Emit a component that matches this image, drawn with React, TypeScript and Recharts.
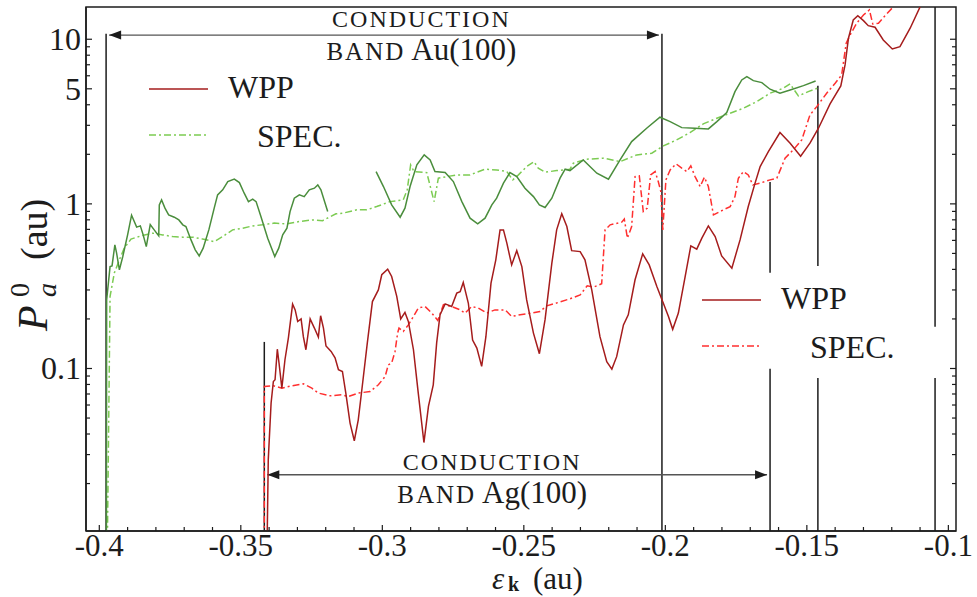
import React from 'react';
import { LineChart, Line, XAxis, YAxis, ReferenceLine, ReferenceArea } from 'recharts';

// chart frame: the plot box runs from x=86 to 956 and y=7 to 531
const W = 977;
const H = 597;
const MARGIN = { top: 7, right: 21, bottom: 0, left: 0 };
const Y_AXIS_W = 86;
const X_AXIS_H = 66;
const PLOT_W = W - MARGIN.right - Y_AXIS_W;

const SERIF = '"Liberation Serif", "DejaVu Serif", serif';
const INK = '#1c1c1c';
const DARK_GREEN = '#4a8d3c';
const LIGHT_GREEN = '#7ccb52';
const DARK_RED = '#a51c1c';
const RED = '#ff2f2f';
const DASH_DOT = '7 3 2 3';

const X_DOMAIN: [number, number] = [-0.4047, -0.0973];
const Y_DOMAIN: [number, number] = [0.0103, 15.7];

const X_TICKS = [-0.4, -0.39, -0.38, -0.37, -0.36, -0.35, -0.34, -0.33, -0.32, -0.31, -0.3, -0.29, -0.28, -0.27, -0.26, -0.25,
  -0.24, -0.23, -0.22, -0.21, -0.2, -0.19, -0.18, -0.17, -0.16, -0.15, -0.14, -0.13, -0.12, -0.11, -0.1];
const X_TICK_LABELS: Record<string, string> = {
  '-0.40': '-0.4', '-0.35': '-0.35', '-0.30': '-0.3', '-0.25': '-0.25', '-0.20': '-0.2', '-0.15': '-0.15', '-0.10': '-0.1',
};

const Y_TICKS = [0.02, 0.03, 0.04, 0.05, 0.06, 0.07, 0.08, 0.09, 0.1, 0.2, 0.3, 0.4, 0.5, 0.6, 0.7, 0.8, 0.9,
  1, 2, 3, 4, 5, 6, 7, 8, 9, 10];
const Y_TICK_LABELS: Record<string, string> = { '10': '10', '5': '5', '1': '1', '0.1': '0.1' };

// Au(100), WPP (solid, with a break near -0.31)
const auWpp: [number, number | null][] = [
  [-0.3975, 0.005], [-0.3974, 0.261], [-0.3962, 0.416], [-0.3955, 0.42], [-0.3945, 0.564], [-0.3939, 0.504],
  [-0.3929, 0.397], [-0.3917, 0.479], [-0.39, 0.648], [-0.3886, 0.854], [-0.3868, 0.722], [-0.3855, 0.735],
  [-0.3845, 0.648], [-0.3834, 0.55], [-0.382, 0.749], [-0.3806, 0.695], [-0.379, 0.639], [-0.3788, 0.986],
  [-0.378, 1.057], [-0.3768, 0.942], [-0.3755, 0.857], [-0.3735, 0.83], [-0.3719, 0.799], [-0.3705, 0.746],
  [-0.3694, 0.728], [-0.3676, 0.604], [-0.3661, 0.526], [-0.3647, 0.483], [-0.3633, 0.538], [-0.3613, 0.695],
  [-0.3594, 0.942], [-0.3582, 1.134], [-0.3564, 1.216], [-0.3546, 1.366], [-0.3523, 1.413], [-0.3505, 1.347],
  [-0.3488, 1.161], [-0.3473, 1.032], [-0.3458, 1.068], [-0.3446, 1.032], [-0.3429, 0.837], [-0.3405, 0.619],
  [-0.338, 0.479], [-0.3366, 0.538], [-0.3352, 0.648], [-0.3337, 0.712], [-0.3326, 0.898], [-0.3311, 1.083],
  [-0.3293, 1.134], [-0.3276, 1.107], [-0.3258, 1.216], [-0.324, 1.245], [-0.3228, 1.304], [-0.3217, 1.216],
  [-0.3193, 0.898], [-0.31, null],
  [-0.3022, 1.571], [-0.2996, 1.274], [-0.2967, 0.986], [-0.2937, 0.83], [-0.292, 0.942], [-0.2902, 1.274],
  [-0.2878, 1.725], [-0.2852, 1.984], [-0.2831, 1.849], [-0.2814, 1.571], [-0.2778, 1.549], [-0.2749, 1.366],
  [-0.2719, 1.032], [-0.269, 0.819], [-0.2663, 0.756], [-0.2637, 0.819], [-0.2613, 0.986], [-0.2596, 1.083],
  [-0.2572, 1.336], [-0.2549, 1.549], [-0.2525, 1.464], [-0.2496, 1.245], [-0.2466, 1.107], [-0.2445, 0.986],
  [-0.2425, 0.95], [-0.2401, 1.083], [-0.2372, 1.432], [-0.2354, 1.624], [-0.2337, 1.593], [-0.229, 1.849],
  [-0.2242, 1.536], [-0.2201, 1.413], [-0.216, 1.849], [-0.2119, 2.389], [-0.2066, 2.881], [-0.2019, 3.36],
  [-0.1983, 3.16], [-0.1942, 2.905], [-0.1895, 2.881], [-0.1848, 2.853], [-0.1818, 3.16], [-0.1783, 3.584],
  [-0.1754, 4.806], [-0.173, 5.661], [-0.1712, 5.929], [-0.1689, 5.605], [-0.1659, 5.452], [-0.163, 4.971],
  [-0.1595, 4.7], [-0.1559, 4.923], [-0.1512, 5.228], [-0.1469, 5.582],
];

// Au(100), SPEC. (dash-dot)
const auSpec: [number, number][] = [
  [-0.3973, 0.005], [-0.3962, 0.274], [-0.3947, 0.38], [-0.3929, 0.457], [-0.3912, 0.538], [-0.3888, 0.611],
  [-0.3853, 0.639], [-0.3811, 0.664], [-0.3776, 0.648], [-0.3741, 0.633], [-0.3705, 0.628], [-0.367, 0.628],
  [-0.3635, 0.611], [-0.3594, 0.59], [-0.3564, 0.633], [-0.3529, 0.695], [-0.3493, 0.712], [-0.3458, 0.735],
  [-0.3423, 0.746], [-0.3382, 0.764], [-0.334, 0.756], [-0.3293, 0.781], [-0.3246, 0.799], [-0.3211, 0.791],
  [-0.3164, 0.87], [-0.3138, 0.879], [-0.309, 0.92], [-0.3055, 0.92], [-0.302, 0.963], [-0.2973, 1.032],
  [-0.2926, 1.057], [-0.2912, 1.216], [-0.29, 1.725], [-0.2888, 1.571], [-0.2843, 1.549], [-0.2817, 1.032],
  [-0.2802, 1.432], [-0.2772, 1.464], [-0.2737, 1.5], [-0.269, 1.5], [-0.2637, 1.624], [-0.2596, 1.608],
  [-0.256, 1.571], [-0.2539, 1.399], [-0.2519, 1.5], [-0.249, 1.685], [-0.2464, 1.806], [-0.2449, 1.647],
  [-0.2425, 1.557], [-0.2384, 1.593], [-0.2337, 1.624], [-0.2325, 1.767], [-0.2278, 1.868], [-0.2219, 1.895],
  [-0.216, 1.806], [-0.2101, 1.984], [-0.2048, 2.031], [-0.2007, 2.249], [-0.196, 2.447], [-0.1913, 2.71],
  [-0.1866, 3.06], [-0.1818, 3.314], [-0.1771, 3.554], [-0.1724, 3.811], [-0.1677, 4.18], [-0.163, 4.7],
  [-0.1583, 5.041], [-0.1559, 5.353], [-0.153, 4.526], [-0.1495, 4.806], [-0.1463, 5.041],
];

// Ag(100), WPP (solid)
const agWpp: [number, number][] = [
  [-0.3409, 0.005], [-0.3403, 0.0279], [-0.3393, 0.0617], [-0.3385, 0.0834], [-0.3379, 0.0854], [-0.3371, 0.131],
  [-0.3365, 0.108], [-0.3355, 0.076], [-0.3344, 0.113], [-0.3332, 0.153], [-0.3317, 0.246], [-0.3308, 0.227],
  [-0.3299, 0.193], [-0.3287, 0.2], [-0.3279, 0.156], [-0.327, 0.13], [-0.3255, 0.2], [-0.324, 0.176],
  [-0.3226, 0.155], [-0.3218, 0.209], [-0.3208, 0.176], [-0.3199, 0.137], [-0.3181, 0.127], [-0.3167, 0.116],
  [-0.3155, 0.0982], [-0.3141, 0.0959], [-0.3129, 0.0709], [-0.3114, 0.0466], [-0.3099, 0.0364], [-0.3085, 0.0488],
  [-0.3071, 0.0777], [-0.3053, 0.143], [-0.3035, 0.255], [-0.3014, 0.3], [-0.3002, 0.371], [-0.2981, 0.401],
  [-0.2967, 0.362], [-0.2949, 0.274], [-0.2935, 0.2], [-0.292, 0.219], [-0.2908, 0.193], [-0.289, 0.13],
  [-0.2873, 0.0709], [-0.2853, 0.0355], [-0.2837, 0.0588], [-0.282, 0.0796], [-0.2808, 0.143], [-0.2796, 0.212],
  [-0.2778, 0.247], [-0.2755, 0.238], [-0.2737, 0.287], [-0.2725, 0.293], [-0.2714, 0.333], [-0.2696, 0.249],
  [-0.2681, 0.149], [-0.2666, 0.133], [-0.2649, 0.103], [-0.2634, 0.156], [-0.2616, 0.33], [-0.2599, 0.457],
  [-0.2584, 0.695], [-0.2572, 0.695], [-0.256, 0.577], [-0.2543, 0.426], [-0.2525, 0.52], [-0.2507, 0.416],
  [-0.249, 0.261], [-0.2466, 0.164], [-0.2445, 0.123], [-0.2425, 0.198], [-0.2401, 0.436], [-0.2384, 0.695],
  [-0.2366, 0.87], [-0.2348, 0.728], [-0.2331, 0.52], [-0.2301, 0.513], [-0.2284, 0.457], [-0.226, 0.3],
  [-0.2231, 0.156], [-0.2207, 0.11], [-0.2189, 0.0992], [-0.2172, 0.118], [-0.2148, 0.184], [-0.2131, 0.212],
  [-0.2107, 0.346], [-0.208, 0.497], [-0.2057, 0.426], [-0.203, 0.315], [-0.2007, 0.249], [-0.1989, 0.207],
  [-0.1974, 0.173], [-0.1954, 0.217], [-0.193, 0.362], [-0.191, 0.556], [-0.1889, 0.531], [-0.1871, 0.619],
  [-0.1848, 0.735], [-0.1824, 0.633], [-0.1801, 0.483], [-0.1765, 0.407], [-0.1736, 0.604], [-0.1707, 0.963],
  [-0.1683, 1.336], [-0.1665, 1.685], [-0.1636, 2.077], [-0.1595, 2.71], [-0.1559, 2.336], [-0.1522, 1.948],
  [-0.1489, 2.336], [-0.1459, 2.881], [-0.1418, 4.046], [-0.138, 5.203], [-0.1365, 6.98], [-0.1353, 10.14],
  [-0.1336, 13.1], [-0.132, 13.91], [-0.13, 12.97], [-0.1283, 12.09], [-0.1259, 11.83], [-0.123, 9.9],
  [-0.1198, 8.73], [-0.1171, 9.02], [-0.1135, 11.67], [-0.1095, 16.4],
];

// Ag(100), SPEC. (dash-dot)
const agSpec: [number, number][] = [
  [-0.3417, 0.005], [-0.3417, 0.0777], [-0.3385, 0.0785], [-0.3355, 0.076], [-0.332, 0.0785], [-0.3279, 0.0807],
  [-0.3249, 0.076], [-0.3226, 0.0709], [-0.3185, 0.0683], [-0.3143, 0.0692], [-0.312, 0.0676], [-0.3085, 0.0709],
  [-0.3043, 0.0725], [-0.3014, 0.0796], [-0.299, 0.0894], [-0.2979, 0.105], [-0.2967, 0.108], [-0.2955, 0.127],
  [-0.2946, 0.164], [-0.2941, 0.176], [-0.2926, 0.168], [-0.2908, 0.184], [-0.289, 0.207], [-0.2873, 0.233],
  [-0.2849, 0.238], [-0.2825, 0.217], [-0.2804, 0.196], [-0.2784, 0.244], [-0.2755, 0.238], [-0.2725, 0.227],
  [-0.2708, 0.217], [-0.2684, 0.238], [-0.2661, 0.233], [-0.2631, 0.217], [-0.2602, 0.227], [-0.2566, 0.227],
  [-0.2543, 0.207], [-0.2513, 0.212], [-0.2472, 0.217], [-0.2443, 0.222], [-0.2419, 0.24], [-0.2378, 0.252],
  [-0.2337, 0.265], [-0.2301, 0.28], [-0.2276, 0.318], [-0.2254, 0.312], [-0.2225, 0.327], [-0.2213, 0.695],
  [-0.2195, 0.746], [-0.2154, 0.774], [-0.2145, 0.808], [-0.2134, 0.619], [-0.2119, 0.728], [-0.2107, 1.464],
  [-0.2092, 1.479], [-0.2078, 0.898], [-0.2064, 0.942], [-0.2052, 1.5], [-0.2036, 1.571], [-0.2025, 1.366],
  [-0.2016, 1.188], [-0.2009, 0.695], [-0.1998, 1.399], [-0.1983, 1.608], [-0.1962, 1.75], [-0.1942, 1.647],
  [-0.1924, 1.571], [-0.191, 1.701], [-0.1895, 1.464], [-0.1877, 1.274], [-0.1862, 1.452], [-0.1848, 1.274],
  [-0.183, 0.857], [-0.1795, 0.92], [-0.1771, 0.963], [-0.1754, 1.107], [-0.1742, 1.432], [-0.1724, 1.571],
  [-0.1707, 1.5], [-0.1691, 1.304], [-0.1659, 1.347], [-0.163, 1.399], [-0.1606, 1.432], [-0.1577, 1.895],
  [-0.1548, 2.128], [-0.1518, 2.447], [-0.1489, 3.47], [-0.1465, 3.897], [-0.143, 4.7], [-0.14, 5.404],
  [-0.1377, 6.07], [-0.1361, 9.46], [-0.1347, 10.62], [-0.1324, 12.51], [-0.13, 14.04], [-0.1279, 15.06],
  [-0.1267, 12.38], [-0.1247, 12.51], [-0.1227, 13.72], [-0.1194, 15.77], [-0.1171, 17],
];

// black markers (band edges etc.): x, then [top, bottom] pieces
const BOTTOM = Y_DOMAIN[0];
const markers: { x: number; parts: [number, number][] }[] = [
  { x: -0.3976, parts: [[10.8, BOTTOM]] },
  { x: -0.3417, parts: [[0.145, BOTTOM]] },
  { x: -0.2012, parts: [[10.8, BOTTOM]] },
  { x: -0.163, parts: [[1.36, 0.381], [0.0995, BOTTOM]] },
  { x: -0.1461, parts: [[5.21, 0.42], [0.0877, BOTTOM]] },
  { x: -0.1047, parts: [[Y_DOMAIN[1], 0.179], [0.0877, BOTTOM]] },
];

const toRows = (pts: [number, number | null][]) => pts.map(([x, y]) => ({ x, y }));

const YTick = (props: any) => {
  const { x, y, payload } = props;
  const label = Y_TICK_LABELS[String(payload.value)];
  const len = label ? 6 : 4;
  return (
    <g>
      <line x1={x} y1={y} x2={x + len} y2={y} stroke={INK} strokeWidth={1.2} />
      <line x1={x + PLOT_W} y1={y} x2={x + PLOT_W - len} y2={y} stroke={INK} strokeWidth={1.2} />
      {label && (
        <text x={x - 5} y={y + 11} textAnchor="end" fontFamily={SERIF} fontSize={32} fill={INK}>{label}</text>
      )}
    </g>
  );
};

const XTick = (props: any) => {
  const { x, y, payload } = props;
  const label = X_TICK_LABELS[Number(payload.value).toFixed(2)];
  const len = label ? 6 : 4;
  return (
    <g>
      <line x1={x} y1={y} x2={x} y2={y - len} stroke={INK} strokeWidth={1.2} />
      {label && (
        <text x={x} y={y + 25} textAnchor="middle" fontFamily={SERIF} fontSize={31} fill={INK}>{label}</text>
      )}
    </g>
  );
};

// double arrow with the two-line caption
const arrowShape = (metal: string, frac: number, upDy: number, lowDy: number) => (p: any) => {
  const a = Math.min(p.x1, p.x2) + 3;
  const b = Math.max(p.x1, p.x2) - 3;
  const y = p.y1;
  const cx = a + (b - a) * frac;
  const col = '#555';
  return (
    <g>
      <line x1={a} y1={y} x2={b} y2={y} stroke={col} strokeWidth={1.4} />
      <polygon points={`${a},${y} ${a + 12},${y - 4.5} ${a + 12},${y + 4.5}`} fill={INK} />
      <polygon points={`${b},${y} ${b - 12},${y - 4.5} ${b - 12},${y + 4.5}`} fill={INK} />
      <text x={cx} y={y + upDy} textAnchor="middle" fontFamily={SERIF} fontSize={24} letterSpacing={2} fill={INK}>CONDUCTION</text>
      <text x={cx} y={y + lowDy} textAnchor="middle" fontFamily={SERIF} fill={INK}>
        <tspan fontSize={25} letterSpacing={2}>BAND</tspan>
        <tspan fontSize={31}>{` ${metal}(100)`}</tspan>
      </text>
    </g>
  );
};

const LegendBlock = ({ x, y, wppColor, specColor }: { x: number; y: number; wppColor: string; specColor: string }) => (
  <g fontFamily={SERIF} fill={INK}>
    <line x1={x} y1={y} x2={x + 59} y2={y} stroke={wppColor} strokeWidth={1.5} />
    <text x={x + 79} y={y + 9} fontSize={32}>WPP</text>
    <line x1={x} y1={y + 46} x2={x + 59} y2={y + 46} stroke={specColor} strokeWidth={1.5} strokeDasharray={DASH_DOT} />
    <text x={x + 108} y={y + 58} fontSize={32}>SPEC.</text>
  </g>
);

export default function App() {
  return (
    <div style={{ position: 'absolute', left: 0, top: 0, width: W, height: H, background: '#fff' }}>
      <LineChart width={W} height={H} margin={MARGIN}>
        <XAxis
          dataKey="x"
          type="number"
          domain={X_DOMAIN}
          allowDataOverflow
          ticks={X_TICKS}
          interval={0}
          height={X_AXIS_H}
          tickSize={0}
          tickMargin={0}
          tickLine={false}
          axisLine={{ stroke: INK, strokeWidth: 1.5 }}
          tick={<XTick />}
        />
        <YAxis
          type="number"
          scale="log"
          domain={Y_DOMAIN}
          allowDataOverflow
          ticks={Y_TICKS}
          interval={0}
          width={Y_AXIS_W}
          tickSize={0}
          tickMargin={0}
          tickLine={false}
          axisLine={{ stroke: INK, strokeWidth: 1.5 }}
          tick={<YTick />}
        />
        <ReferenceArea
          x1={X_DOMAIN[0]} x2={X_DOMAIN[1]} y1={Y_DOMAIN[0]} y2={Y_DOMAIN[1]}
          fill="none" fillOpacity={0} stroke={INK} strokeWidth={1.5} ifOverflow="visible"
        />
        {markers.flatMap((m) =>
          m.parts.map(([top, bot], i) => (
            <ReferenceLine
              key={`${m.x}-${i}`}
              segment={[{ x: m.x, y: top }, { x: m.x, y: bot }]}
              stroke={INK}
              strokeWidth={1.5}
              ifOverflow="visible"
            />
          ))
        )}
        <ReferenceLine
          segment={[{ x: -0.3976, y: 10.6 }, { x: -0.2012, y: 10.6 }]}
          ifOverflow="visible"
          shape={arrowShape('Au', 0.568, -8, 25)}
        />
        <ReferenceLine
          segment={[{ x: -0.3417, y: 0.0226 }, { x: -0.163, y: 0.0226 }]}
          ifOverflow="visible"
          shape={arrowShape('Ag', 0.45, -5, 28)}
        />
        <Line data={toRows(auSpec)} dataKey="y" stroke={LIGHT_GREEN} strokeWidth={1.5} strokeDasharray={DASH_DOT}
          dot={false} activeDot={false} isAnimationActive={false} type="linear" />
        <Line data={toRows(auWpp)} dataKey="y" stroke={DARK_GREEN} strokeWidth={1.5} connectNulls={false}
          dot={false} activeDot={false} isAnimationActive={false} type="linear" />
        <Line data={toRows(agSpec)} dataKey="y" stroke={RED} strokeWidth={1.5} strokeDasharray={DASH_DOT}
          dot={false} activeDot={false} isAnimationActive={false} type="linear" />
        <Line data={toRows(agWpp)} dataKey="y" stroke={DARK_RED} strokeWidth={1.5}
          dot={false} activeDot={false} isAnimationActive={false} type="linear" />
      </LineChart>
      <svg width={W} height={H} style={{ position: 'absolute', left: 0, top: 0, pointerEvents: 'none' }}>
        <LegendBlock x={149} y={89} wppColor={DARK_RED} specColor={LIGHT_GREEN} />
        <LegendBlock x={702} y={300} wppColor={DARK_RED} specColor={RED} />
        <g transform="translate(47,331) rotate(-90)" fontFamily={SERIF} fill={INK}>
          <text x={0} y={0} fontSize={42} fontStyle="italic">P</text>
          <text x={34} y={9} fontSize={28} fontStyle="italic">a</text>
          <text x={34} y={-18} fontSize={28}>0</text>
          <text x={71} y={0} fontSize={38}>(au)</text>
        </g>
        <g fontFamily={SERIF} fill={INK}>
          <text x={492} y={589} fontSize={31} fontStyle="italic">ε</text>
          <text x={508} y={591} fontSize={20} fontWeight="bold">k</text>
          <text x={533} y={589} fontSize={31}>(au)</text>
        </g>
      </svg>
    </div>
  );
}
